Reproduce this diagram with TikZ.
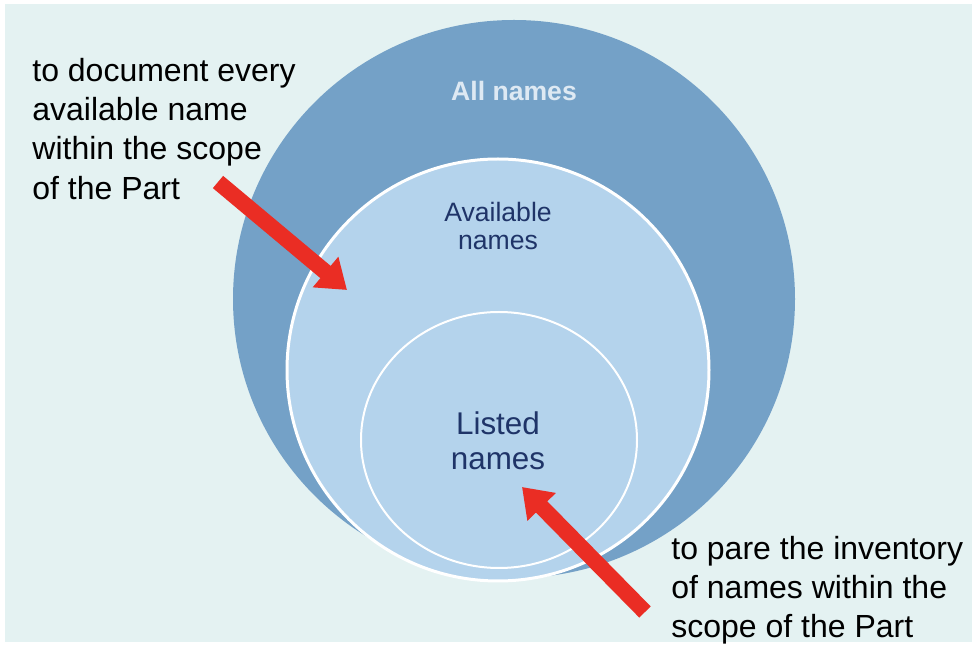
\documentclass[tikz,border=0pt]{standalone}
\usepackage{fontspec}
\setmainfont{Liberation Sans}
\usepackage{tikz}
\usetikzlibrary{shapes}
\usetikzlibrary{arrows.meta}

\definecolor{bgcyan}{RGB}{228,242,242}
\definecolor{outerblue}{RGB}{116,161,199}
\definecolor{innerblue}{RGB}{180,211,236}
\definecolor{navy}{RGB}{31,52,104}
\definecolor{paleblue}{RGB}{222,233,243}
\definecolor{arrowred}{RGB}{234,45,36}

\begin{document}
\begin{tikzpicture}[x=0.5pt, y=-0.5pt,
		ring/.style={shape=ellipse, inner sep=0pt, fill=innerblue, draw=white},
		note/.style={align=left, inner sep=0pt, font=\fontsize{16}{19.6}\selectfont},
		pointer/.style={arrowred, line width=8pt, -{Triangle[width=19pt,length=14pt]}}]

		\useasboundingbox (0,0) rectangle (976,646);
		\fill[white] (0,0) rectangle (976,646);
		\fill[bgcyan] (5,4) rectangle (972,642);

		\node (all) at (514,299) [shape=ellipse, inner sep=0pt, fill=outerblue, minimum width=281pt, minimum height=279pt] {};
		\node (avail) at (498,370) [ring, line width=1.5pt, minimum width=211pt, minimum height=211pt] {};
		\node (listed) at (499,440) [ring, line width=1pt, minimum width=138pt, minimum height=128pt] {};

		\node (allt) at (514,91) [text=paleblue, font=\fontsize{13.3}{15}\selectfont\bfseries] {All names};
		\node (availt) at (498,226) [text=navy, align=center, font=\fontsize{13.3}{14}\selectfont] {Available\\names};
		\node (listedt) at (498,441) [text=navy, align=center, font=\fontsize{15.7}{17.5}\selectfont] {Listed\\names};

		\node (leftnote) at (32,58) [note, anchor=north west] {to document every\\available name\\within the scope\\of the Part};
		\node (rightnote) at (671,536) [note, anchor=north west] {to pare the inventory\\of names within the\\scope of the Part};

		\coordinate (tail1) at (218,182);
		\coordinate (tip1) at (347,290);
		\coordinate (tail2) at (645,612);
		\coordinate (tip2) at (522,487);
		\draw[pointer] (tail1) -- (tip1);
		\draw[pointer] (tail2) -- (tip2);
	\end{tikzpicture}
\end{document}
